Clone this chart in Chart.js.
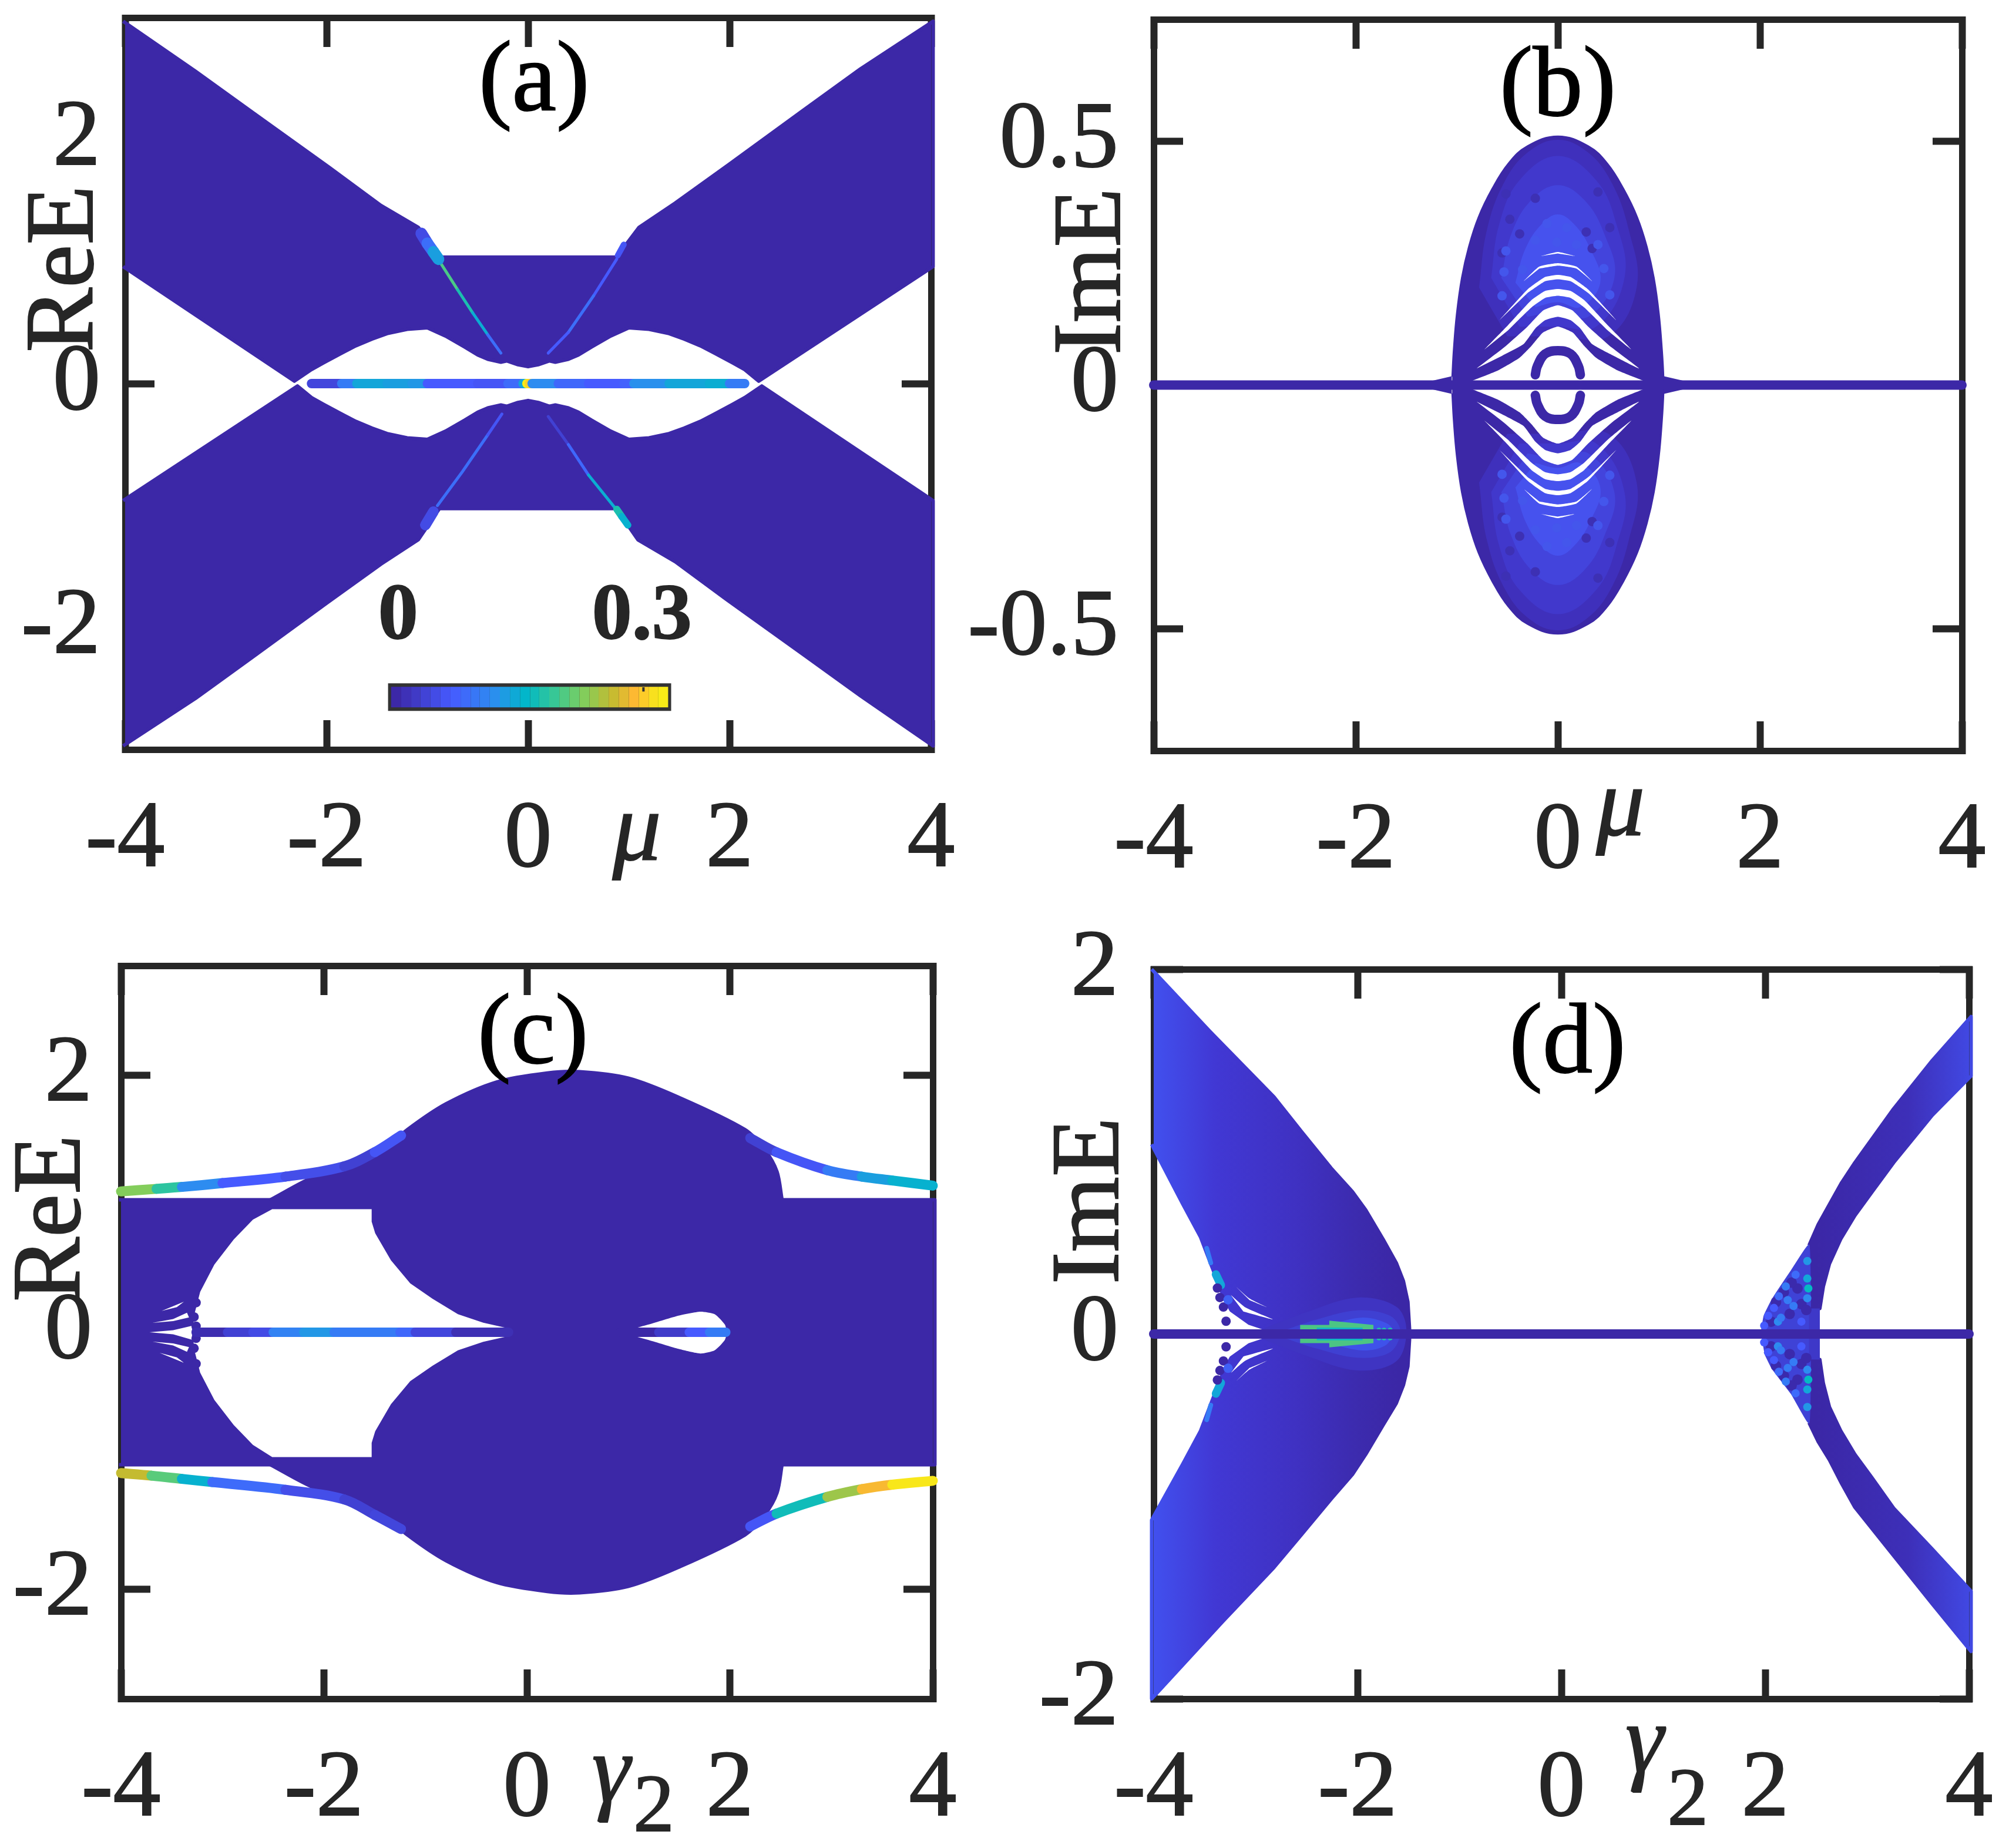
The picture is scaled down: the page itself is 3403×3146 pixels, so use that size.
<!DOCTYPE html>
<html>
<head>
<meta charset="utf-8">
<title>Band panels</title>
<script src="https://cdn.jsdelivr.net/npm/chart.js@4"></script>
<style>
  html, body { margin: 0; padding: 0; background: #fff; }
  #page { position: relative; width: 3403px; height: 3146px; overflow: hidden; }
  canvas { position: absolute; }
</style>
</head>
<body>
<div id="page">
  <canvas id="panelA" style="left:0;top:0" width="1700" height="1560"></canvas>
  <canvas id="panelB" style="left:1600px;top:0" width="1803" height="1560"></canvas>
  <canvas id="panelC" style="left:0;top:1560px" width="1700" height="1586"></canvas>
  <canvas id="panelD" style="left:1600px;top:1560px" width="1803" height="1586"></canvas>
</div>
<script>
// tick labels
const xTicks = [-4, -2, 0, 2, 4];
const aTicksY = [-2, 0, 2];
const bTicksY = [-0.5, 0, 0.5];
const cTicksY = [-2, 0, 2];
const dTicksY = [-2, 0, 2];

// colour bar values, [x, y, level]
const barRows = [[-1.36,-2.57,0],[-1.26,-2.57,.036],[-1.16,-2.57,.071],[-1.07,-2.57,.107],[-.97,-2.57,.143],[-.87,-2.57,.179],[-.77,-2.57,.214],[-.67,-2.57,.25],[-.57,-2.57,.286],[-.48,-2.57,.321],[-.38,-2.57,.357],[-.28,-2.57,.393],[-.18,-2.57,.429],[-.08,-2.57,.464],[.02,-2.57,.5],[.11,-2.57,.536],[.21,-2.57,.571],[.31,-2.57,.607],[.41,-2.57,.643],[.51,-2.57,.679],[.61,-2.57,.714],[.7,-2.57,.75],[.8,-2.57,.786],[.9,-2.57,.821],[1,-2.57,.857],[1.1,-2.57,.893],[1.2,-2.57,.929],[1.29,-2.57,.964],[1.39,-2.57,1]];
const barFrame = [[-1.39,-2.57],[1.42,-2.57]];
const barNotch = [[1.145,-2.49],[1.145,-2.525]];

// panel (a): band outlines, [mu, ReE]
const aUpper = [[-4.02,2.97],[-3.3,2.56],[-2.73,2.22],[-1.97,1.77],[-1.46,1.46],[-1.09,1.28],[-.866,1.037],[.878,1.037],[1.1,1.28],[1.46,1.48],[2,1.8],[2.73,2.24],[3.3,2.58],[4.02,2.97],[4.02,.96],[2.29,.02],[2.15,.115],[2.03,.17],[1.85,.25],[1.71,.31],[1.55,.365],[1.4,.41],[1.2,.445],[1,.457],[.82,.39],[.63,.3],[.5,.235],[.4,.2],[.27,.176],[.21,.186],[.1,.155],[0,.139],[-.1,.155],[-.21,.186],[-.27,.176],[-.4,.2],[-.5,.235],[-.63,.3],[-.82,.39],[-1,.457],[-1.2,.445],[-1.4,.41],[-1.55,.365],[-1.71,.31],[-1.85,.25],[-2.03,.17],[-2.15,.115],[-2.32,.02],[-4.02,.96]];
const aLower = [[-4.02,-2.97],[-3.3,-2.58],[-2.73,-2.24],[-2,-1.8],[-1.46,-1.48],[-1.09,-1.28],[-.88,-1.025],[.876,-1.025],[1.09,-1.28],[1.46,-1.46],[1.97,-1.77],[2.73,-2.22],[3.3,-2.56],[4.02,-2.97],[4.02,-.96],[2.32,-.02],[2.15,-.115],[2.03,-.17],[1.85,-.25],[1.71,-.31],[1.55,-.365],[1.4,-.41],[1.2,-.445],[1,-.457],[.82,-.39],[.63,-.3],[.5,-.235],[.4,-.2],[.27,-.176],[.21,-.186],[.1,-.155],[0,-.139],[-.1,-.155],[-.21,-.186],[-.27,-.176],[-.4,-.2],[-.5,-.235],[-.63,-.3],[-.82,-.39],[-1,-.457],[-1.2,-.445],[-1.4,-.41],[-1.55,-.365],[-1.71,-.31],[-1.85,-.25],[-2.03,-.17],[-2.15,-.115],[-2.29,-.02],[-4.02,-.96]];
// edge states in (a), [mu, ReE, weight]
const aEdgeThickUL = [[-1.06,1.23,.14],[-1,1.15,.26],[-.94,1.08,.4],[-.89,1.02,.58]];
const aEdgeThinUL = [[-.87,.99,.6],[-.7,.77,.52],[-.55,.58,.44],[-.4,.4,.26],[-.27,.25,.1]];
const aEdgeThickUR = [[.95,1.14,.18],[.89,1.05,.2]];
const aEdgeThinUR = [[.88,1.02,.2],[.65,.72,.26],[.4,.42,.2],[.2,.25,.08]];
const aEdgeThickLL = [[-1.02,-1.16,.14],[-.94,-1.05,.2]];
const aEdgeThinLL = [[-.9,-1,.26],[-.65,-.72,.26],[-.4,-.42,.18],[-.26,-.25,.08]];
const aEdgeThickLR = [[.88,-1.03,.52],[.93,-1.09,.45],[.99,-1.16,.36]];
const aEdgeThinLR = [[.2,-.27,.1],[.4,-.5,.24],[.6,-.75,.44],[.864,-1.02,.58]];
const aMidRows = [[-2.15,0,.12],[-1.85,0,.3],[-1.7,0,.42],[-1.4,0,.4],[-1.15,0,.38],[-1,0,.2],[-.5,0,.18],[-.2,0,.25],[-.05,0,.42],[-.012,0,.98],[.012,0,.9],[.04,0,.35],[.3,0,.24],[.6,0,.2],[.95,0,.22],[1.05,0,.36],[1.4,0,.42],[1.8,0,.44],[2,0,.3],[2.15,0,.12]];

// panel (b): spectrum outline and its lighter layers, [mu, ImE]
const bOutline = [[-1.045,.017],[-1.03,.073],[-1,.146],[-.95,.22],[-.88,.284],[-.785,.344],[-.65,.402],[-.49,.454],[-.3,.49],[0,.51],[.3,.49],[.49,.454],[.65,.402],[.785,.344],[.88,.284],[.95,.22],[1,.146],[1.03,.073],[1.045,.017],[1.045,-.017],[1.03,-.073],[1,-.146],[.95,-.22],[.88,-.284],[.785,-.344],[.65,-.402],[.49,-.454],[.3,-.49],[0,-.51],[-.3,-.49],[-.49,-.454],[-.65,-.402],[-.785,-.344],[-.88,-.284],[-.95,-.22],[-1,-.146],[-1.03,-.073],[-1.045,-.017]];
const bFlareLeft = [[-1.25,.0085],[-1.05,.018],[-1.05,-.018],[-1.25,-.0085]];
const bFlareRight = [[1.25,.0085],[1.05,.018],[1.05,-.018],[1.25,-.0085]];
const bGlowUp1 = [[-.78,.2],[-.7,.32],[-.52,.42],[-.28,.48],[0,.503],[.28,.48],[.52,.42],[.7,.32],[.78,.2],[.5,.1],[0,.1],[-.5,.1]];
const bGlowUp2 = [[-.66,.22],[-.58,.33],[-.38,.42],[0,.47],[.38,.42],[.58,.33],[.66,.22],[.38,.12],[0,.12],[-.38,.12]];
const bGlowUp3 = [[-.56,.22],[-.46,.31],[-.26,.38],[0,.41],[.26,.38],[.46,.31],[.56,.22],[.3,.14],[0,.15],[-.3,.14]];
const bGlowUp4 = [[-.42,.21],[-.32,.28],[-.16,.33],[0,.35],[.16,.33],[.32,.28],[.42,.21],[.22,.16],[0,.17],[-.22,.16]];
const bGlowLow1 = [[-.78,-.2],[-.7,-.32],[-.52,-.42],[-.28,-.48],[0,-.503],[.28,-.48],[.52,-.42],[.7,-.32],[.78,-.2],[.5,-.1],[0,-.1],[-.5,-.1]];
const bGlowLow2 = [[-.66,-.22],[-.58,-.33],[-.38,-.42],[0,-.47],[.38,-.42],[.58,-.33],[.66,-.22],[.38,-.12],[0,-.12],[-.38,-.12]];
const bGlowLow3 = [[-.56,-.22],[-.46,-.31],[-.26,-.38],[0,-.41],[.26,-.38],[.46,-.31],[.56,-.22],[.3,-.14],[0,-.15],[-.3,-.14]];
const bGlowLow4 = [[-.42,-.21],[-.32,-.28],[-.16,-.33],[0,-.35],[.16,-.33],[.32,-.28],[.42,-.21],[.22,-.16],[0,-.17],[-.22,-.16]];
const bBrightSpecks = [[-.533,.232],[-.349,.237],[.455,.239],[.514,.185],[-.552,.183],[-.223,.297],[-.01,.293],[.397,.288],[-.514,.275],[.184,.288],[-.107,.331],[.087,.323],[-.533,-.232],[-.349,-.237],[.455,-.239],[.514,-.185],[-.552,-.183],[-.223,-.297],[-.01,-.293],[.397,-.288],[-.514,-.275],[.184,-.288],[-.107,-.331],[.087,-.323]];
const bDarkSpecks = [[-.514,.392],[-.378,.31],[-.223,.383],[-.552,.271],[-.475,.34],[.397,.396],[.281,.314],[.514,.323],[.339,.28],[-.514,-.392],[-.378,-.31],[-.223,-.383],[-.552,-.271],[-.475,-.34],[.397,-.396],[.281,-.314],[.514,-.323],[.339,-.28]];
// white gaps between the curves
const bGapUp = [
  [[-.843,.009],[-.591,.03],[-.378,.056],[-.262,.08],[-.145,.108],[0,.12],[.145,.108],[.262,.08],[.378,.056],[.591,.03],[.843,.009]],
  [[-.804,.034],[-.533,.077],[-.3,.12],[-.145,.153],[0,.1635],[.145,.153],[.3,.12],[.533,.077],[.804,.034],[.552,.06],[.339,.084],[.223,.116],[.126,.133],[0,.14],[-.126,.133],[-.223,.116],[-.339,.084],[-.552,.06]],
  [[-.727,.073],[-.494,.1226],[-.262,.174],[-.126,.193],[0,.197],[.126,.193],[.262,.174],[.494,.1226],[.727,.073],[.494,.112],[.262,.159],[.126,.1786],[0,.183],[-.126,.1786],[-.262,.159],[-.494,.112]],
  [[-.578,.133],[-.3,.196],[-.126,.2216],[0,.226],[.126,.2216],[.3,.196],[.578,.133],[.3,.189],[.126,.213],[0,.217],[-.126,.213],[-.3,.189]],
  [[-.339,.213],[-.184,.243],[0,.25],[.184,.243],[.339,.213],[.184,.239],[0,.245],[-.184,.239]],
  [[-.169,.2646],[0,.273],[.169,.2646],[0,.27]]
];
const bGapLow = [
  [[-.843,-.009],[-.591,-.03],[-.378,-.056],[-.262,-.08],[-.145,-.108],[0,-.12],[.145,-.108],[.262,-.08],[.378,-.056],[.591,-.03],[.843,-.009]],
  [[-.804,-.034],[-.533,-.077],[-.3,-.12],[-.145,-.153],[0,-.1635],[.145,-.153],[.3,-.12],[.533,-.077],[.804,-.034],[.552,-.06],[.339,-.084],[.223,-.116],[.126,-.133],[0,-.14],[-.126,-.133],[-.223,-.116],[-.339,-.084],[-.552,-.06]],
  [[-.727,-.073],[-.494,-.1226],[-.262,-.174],[-.126,-.193],[0,-.197],[.126,-.193],[.262,-.174],[.494,-.1226],[.727,-.073],[.494,-.112],[.262,-.159],[.126,-.1786],[0,-.183],[-.126,-.1786],[-.262,-.159],[-.494,-.112]],
  [[-.578,-.133],[-.3,-.196],[-.126,-.2216],[0,-.226],[.126,-.2216],[.3,-.196],[.578,-.133],[.3,-.189],[.126,-.213],[0,-.217],[-.126,-.213],[-.3,-.189]],
  [[-.339,-.213],[-.184,-.243],[0,-.25],[.184,-.243],[.339,-.213],[.184,-.239],[0,-.245],[-.184,-.239]],
  [[-.169,-.2646],[0,-.273],[.169,-.2646],[0,-.27]]
];
const bLoopUp = [[-.223,.021],[-.203,.039],[-.126,.064],[0,.0706],[.126,.064],[.203,.039],[.223,.021]];
const bLoopLow = [[-.223,-.021],[-.203,-.039],[-.126,-.064],[0,-.0706],[.126,-.064],[.203,-.039],[.223,-.021]];
const bMidLine = [[-4,0],[4,0]];

// panel (c): [gamma2, ReE]
const cBand = [[-4.02,1.03],[4.02,1.03],[4.02,-1.03],[-4.02,-1.03]];
const cLobeUp = [[-2.54,1.03],[-2.09,1.217],[-1.5,1.37],[-1.18,1.58],[-.8,1.78],[-.3,1.95],[.2,2.02],[.52,2.03],[1,1.98],[1.5,1.83],[2.15,1.58],[2.35,1.42],[2.47,1.25],[2.52,1.03]];
const cLobeLow = [[-2.54,-1.03],[-2.09,-1.217],[-1.5,-1.37],[-1.18,-1.58],[-.8,-1.78],[-.3,-1.95],[.2,-2.02],[.52,-2.03],[1,-1.98],[1.5,-1.83],[2.15,-1.58],[2.35,-1.42],[2.47,-1.25],[2.52,-1.03]];
const cHoleLeft = [[-3.29,.02],[-3.28,.13],[-3.22,.314],[-3.08,.526],[-2.89,.72],[-2.7,.876],[-2.51,.957],[-1.53,.957],[-1.53,.86],[-1.495,.77],[-1.34,.56],[-1.15,.38],[-.93,.26],[-.68,.14],[-.43,.074],[-.18,.03],[-.18,-.03],[-.43,-.074],[-.68,-.14],[-.93,-.26],[-1.15,-.38],[-1.34,-.56],[-1.495,-.77],[-1.53,-.86],[-1.53,-.97],[-2.51,-.97],[-2.7,-.876],[-2.89,-.72],[-3.08,-.526],[-3.22,-.314],[-3.28,-.13],[-3.29,-.02]];
const cHoleRight = [[.92,0],[1.2,.06],[1.5,.13],[1.71,.16],[1.85,.14],[1.95,.06],[1.97,0],[1.95,-.06],[1.85,-.14],[1.71,-.165],[1.5,-.13],[1.2,-.06]];
const cFingers = [
  [[-3.69,.073],[-3.486,.103],[-3.35,.152],[-3.33,.115],[-3.486,.087]],
  [[-3.72,0],[-3.486,.016],[-3.3,.05],[-3.3,-.058],[-3.486,-.016]],
  [[-3.69,-.073],[-3.486,-.103],[-3.35,-.152],[-3.33,-.115],[-3.486,-.087]],
  [[-3.6,.165],[-3.38,.238],[-3.45,.195]],
  [[-3.62,-.16],[-3.38,-.238],[-3.45,-.195]]
];
const cDots = [[-3.26,.23],[-3.28,.119],[-3.26,.047],[-3.26,-.047],[-3.28,-.125],[-3.26,-.245]];
const cMidLeft = [[-3.26,0,.02],[-2.95,0,.1],[-2.7,0,.14],[-2.5,0,.32],[-2.2,0,.38],[-1.9,0,.3],[-1.6,0,.3],[-1.25,0,.24],[-1.1,0,.12],[-.7,0,.03],[-.18,0,0]];
const cMidRight = [[.92,0,0],[1.3,0,.08],[1.6,0,.2],[1.8,0,.3],[1.96,0,.22]];
const cEdgeUL = [[-4,1.095,.68],[-3.65,1.115,.55],[-3.4,1.13,.35],[-3,1.16,.2],[-2.38,1.21,.15],[-1.8,1.29,.1],[-1.5,1.4,.18],[-1.24,1.53,.4]];
const cEdgeUR = [[2.2,1.51,.1],[2.46,1.4,.18],[2.96,1.26,.3],[3.3,1.21,.4],[3.6,1.18,.45],[4,1.14,.62]];
const cEdgeLL = [[-4,-1.095,.78],[-3.7,-1.115,.62],[-3.4,-1.14,.45],[-3.1,-1.165,.25],[-2.38,-1.225,.15],[-1.8,-1.3,.1],[-1.5,-1.42,.12],[-1.24,-1.53,.4]];
const cEdgeLR = [[2.2,-1.51,.18],[2.46,-1.41,.5],[2.96,-1.28,.72],[3.3,-1.22,.85],[3.6,-1.185,.95],[4,-1.155,1]];

// panel (d): [gamma2, ImE]
const dLeftLobe = [[-4.02,2],[-3.45,1.66],[-2.82,1.3],[-2.55,1.11],[-2.26,.91],[-2.05,.78],[-1.92,.68],[-1.75,.52],[-1.62,.39],[-1.55,.29],[-1.506,.177],[-1.49,.03],[-1.49,-.03],[-1.506,-.177],[-1.55,-.28],[-1.62,-.38],[-1.75,-.5],[-1.92,-.66],[-2.05,-.77],[-2.26,-.905],[-2.55,-1.1],[-2.82,-1.28],[-3.32,-1.575],[-4.02,-2],[-4.02,-1.02],[-3.716,-.714],[-3.54,-.531],[-3.43,-.37],[-3.31,-.2],[-3.24,-.13],[-3.06,-.059],[-2.81,-.012],[-2.81,.012],[-3.06,.059],[-3.24,.13],[-3.31,.2],[-3.43,.37],[-3.54,.531],[-3.716,.714],[-4.02,1.04]];
const dGlowOuter = [[-3,.012],[-2.5,.12],[-2,.2],[-1.62,.15],[-1.52,.02],[-1.62,-.15],[-2,-.2],[-2.5,-.12],[-3,-.012]];
const dGlowMid = [[-2.75,.015],[-2.4,.08],[-2,.13],[-1.68,.1],[-1.58,.015],[-1.68,-.1],[-2,-.13],[-2.4,-.08],[-2.75,-.015]];
const dGlowCore = [[-2.5,.02],[-2.25,.055],[-1.95,.09],[-1.72,.06],[-1.65,.015],[-1.72,-.06],[-1.95,-.09],[-2.25,-.055],[-2.5,-.02]];
const dStreakUp = [[-2.563,.05],[-2.277,.05],[-2.277,.073],[-1.844,.05],[-1.844,.02],[-2.563,.02]];
const dStreakLow = [[-2.563,-.05],[-2.277,-.05],[-2.277,-.073],[-1.844,-.05],[-1.844,-.02],[-2.563,-.02]];
const dStreakCoreUp = [[-2.4,.035],[-1.95,.035],[-1.95,.02],[-2.4,.02]];
const dStreakCoreLow = [[-2.4,-.035],[-1.95,-.035],[-1.95,-.02],[-2.4,-.02]];
const dStreakTips = [[-1.79,.022],[-1.74,.022],[-1.68,.022],[-1.79,-.022],[-1.74,-.022],[-1.68,-.022]];
const dFingerUp = [[[-3.245,.215],[-3.1,.146],[-2.83,.08],[-3.12,.123]],[[-3.19,.258],[-3.06,.195],[-2.89,.147],[-3.06,.186]]];
const dFingerLow = [[[-3.245,-.215],[-3.1,-.146],[-2.83,-.08],[-3.12,-.123]],[[-3.19,-.258],[-3.06,-.195],[-2.89,-.147],[-3.06,-.186]]];
const dTealUp = [[-3.39,.327,.42],[-3.34,.268,.42]];
const dTealUp2 = [[-3.48,.47,.3],[-3.44,.39,.36]];
const dTealLow = [[-3.39,-.327,.42],[-3.34,-.268,.42]];
const dTealLow2 = [[-3.48,-.47,.3],[-3.44,-.39,.36]];
const dDots = [[-3.29,.07],[-3.316,.148],[-3.35,.2],[-3.375,.252],[-3.29,-.07],[-3.316,-.148],[-3.35,-.2],[-3.375,-.252]];
const dBrightDots = [[-3.27,.188],[-3.27,-.188]];
const dUpperArm = [[2.43,.486],[2.52,.6],[2.63,.71],[2.75,.83],[2.88,.94],[3.26,1.235],[3.64,1.5],[4.02,1.74],[4.02,1.415],[3.64,1.2],[3.26,.94],[3.05,.78],[2.88,.65],[2.74,.52],[2.63,.385],[2.57,.26],[2.536,.14],[2.43,.13]];
const dLowerArm = [[2.43,-.486],[2.52,-.59],[2.63,-.69],[2.75,-.82],[2.88,-.95],[3.26,-1.215],[3.64,-1.48],[4.02,-1.74],[4.02,-1.41],[3.64,-1.18],[3.26,-.955],[3.05,-.79],[2.88,-.66],[2.74,-.53],[2.63,-.4],[2.57,-.27],[2.536,-.14],[2.43,-.13]];
const dLens = [[1.96,0],[1.99,.1],[2.07,.19],[2.26,.35],[2.43,.486],[2.43,-.486],[2.26,-.33],[2.07,-.19],[1.99,-.1]];
const dStrip = [[2.43,.14],[2.536,.14],[2.536,-.14],[2.43,-.14]];
const dLensBright = [[2.413,.304,.42],[2.423,.25,.48],[2.413,.196,.35],[2.125,.068,.35],[2.154,.089,.3],[2.278,.154,.3],[2.298,.325,.25],[2.202,.261,.3],[2.221,.186,.3],[2.134,.207,.25],[2.029,.1,.2],[1.99,.046,.2],[2.355,.068,.2],[2.413,.4,.38],[2.086,.143,.2],[2.413,-.304,.42],[2.423,-.25,.48],[2.413,-.196,.35],[2.125,-.068,.35],[2.154,-.089,.3],[2.278,-.154,.3],[2.298,-.325,.25],[2.202,-.261,.3],[2.221,-.186,.3],[2.134,-.207,.25],[2.029,-.1,.2],[1.99,-.046,.2],[2.355,-.068,.2],[2.413,-.4,.38],[2.086,-.143,.2]];
const dLensDark = [[2.355,.164],[2.24,.11],[2.183,.229],[2.317,.25],[2.259,.282],[2.106,.175],[2.058,.068],[2.403,.132],[2.355,-.164],[2.24,-.11],[2.183,-.229],[2.317,-.25],[2.259,-.282],[2.106,-.175],[2.058,-.068],[2.403,-.132]];
const dMidLine = [[-4,0],[4,0]];

// axis titles and panel tags, [text, x, y, font, rotated]
const aNotes = [['(a)',.06,2.46,'tag'],['ReE',-4.58,.94,'title',true],['μ',1.08,-3.69,'sym'],['0',-1.29,-1.92,'bold'],['0.3',1.13,-1.92,'bold']];
const bNotes = [['(b)',0,.608,'tag'],['ImE',-4.59,.233,'title',true],['μ',.62,-.87,'sym']];
const cNotes = [['(c)',.06,2.3,'tag'],['ReE',-4.66,.886,'title',true],['γ',.83,-3.45,'sym'],['2',1.25,-3.71,'sub']];
const dNotes = [['(d)',.06,1.58,'tag'],['ImE',-4.6,.73,'title',true],['γ',.815,-2.26,'sym'],['2',1.24,-2.57,'sub']];

const INK = '#262626';
const BAND = '#3c28a7';
const fonts = {
  tag: '170px "Liberation Serif"',
  title: '165px "Liberation Serif"',
  sym: 'italic 165px "Liberation Serif"',
  sub: '140px "Liberation Serif"',
  bold: 'bold 136px "Liberation Serif"'
};
const rampStops = [[0,[60,40,167]],[.2,[70,90,255]],[.35,[45,140,240]],[.47,[0,184,200]],[.58,[60,200,145]],[.67,[125,207,95]],[.78,[196,187,48]],[.86,[255,185,50]],[.93,[248,225,30]],[1,[248,245,16]]];
const leftSweep = [[-4,'#4150ee'],[-3.4,'#4138d4'],[-2.6,'#3f31c2'],[-2,'#3c2bae'],[-1.6,'#3b27a6']];
const armSweep = [[2.5,'#3b27a6'],[3.4,'#3d2fb8'],[4,'#4148e2']];

function ramp(t) {
  let i = 0;
  while (i < rampStops.length - 2 && t > rampStops[i + 1][0]) i++;
  const [t0, c0] = rampStops[i];
  const [t1, c1] = rampStops[i + 1];
  const f = Math.min(1, Math.max(0, (t - t0) / (t1 - t0)));
  return `rgb(${c0.map((c, k) => Math.round(c + (c1[k] - c) * f)).join(',')})`;
}

const toPoints = rows => rows.map(r => ({ x: r[0], y: r[1] }));

function shape(rows, color, edge = 6, tension = 0) {
  return { data: toPoints(rows), showLine: true, fill: 'shape', backgroundColor: color, borderColor: color,
    borderWidth: edge, pointRadius: 0, tension, capBezierPoints: false, clip: false, borderJoinStyle: 'round' };
}
function curve(rows, color, width, tension = 0, cap = 'round') {
  return { data: toPoints(rows), showLine: true, fill: false, borderColor: color, borderWidth: width,
    pointRadius: 0, tension, capBezierPoints: false, clip: false, borderCapStyle: cap };
}
function tinted(rows, width, cap = 'round', tension = 0) {
  const d = curve(rows, ramp(rows[0][2]), width, tension, cap);
  d.segment = { borderColor: c => ramp(rows[c.p0DataIndex][2]) };
  return d;
}
function dots(rows, radius, colors) {
  return { data: toPoints(rows), showLine: false, pointRadius: radius, pointBorderWidth: 0, pointBackgroundColor: colors, clip: false };
}
// horizontal fill that goes from light to dark along the x axis
function sweep(stops) {
  return c => {
    const { chart } = c;
    if (!chart.chartArea) return stops[0][1];
    const sx = chart.scales.x;
    const g = chart.ctx.createLinearGradient(sx.getPixelForValue(-4), 0, sx.getPixelForValue(4), 0);
    stops.forEach(([v, col]) => g.addColorStop((v + 4) / 8, col));
    return g;
  };
}
function swept(rows, stops) {
  return Object.assign(shape(rows, stops[0][1], 6), { backgroundColor: sweep(stops), borderColor: sweep(stops) });
}

const panelText = {
  id: 'panelText',
  afterDatasetsDraw(chart, args, opts) {
    const { ctx, scales } = chart;
    opts.items.forEach(([text, x, y, font, rotated]) => {
      ctx.save();
      ctx.translate(scales.x.getPixelForValue(x), scales.y.getPixelForValue(y));
      if (rotated) ctx.rotate(-Math.PI / 2);
      ctx.font = fonts[font];
      ctx.fillStyle = font === 'tag' ? '#000' : INK;
      ctx.strokeStyle = ctx.fillStyle;
      ctx.lineWidth = 2;
      ctx.textAlign = 'center';
      ctx.textBaseline = 'middle';
      ctx.fillText(text, 0, 0);
      ctx.strokeText(text, 0, 0);
      ctx.restore();
    });
  }
};
Chart.register(panelText);

function axisBase(size, min, max) {
  return {
    type: 'linear', min, max,
    border: { display: true, color: INK, width: 11 },
    grid: { drawOnChartArea: false, drawTicks: true, tickLength: -50, tickWidth: 12, tickColor: INK },
    afterFit: s => {
      if (s.isHorizontal()) s.height = size; else s.width = size;
      s.paddingLeft = s.paddingRight = s.paddingTop = s.paddingBottom = 0;
    }
  };
}
function tickList(values) {
  return s => { s.ticks = values.map(value => ({ value })); };
}
function labelled(base, values, padding) {
  return Object.assign(base, {
    afterBuildTicks: tickList(values),
    ticks: { display: true, autoSkip: false, maxRotation: 0, padding, color: INK, textStrokeColor: INK, textStrokeWidth: 2,
      font: { family: '"Liberation Serif"', size: 162 }, callback: v => String(v) }
  });
}
function plain(base, values) {
  return Object.assign(base, { afterBuildTicks: tickList(values), ticks: { display: false } });
}

function drawPanel(id, marks, notes, box, yMax, yTicks, yPad) {
  const n = marks.length;
  new Chart(document.getElementById(id), {
    type: 'scatter',
    // marks are listed bottom to top
    data: { datasets: marks.map((d, i) => Object.assign(d, { order: n - i })) },
    options: {
      responsive: false, animation: false, devicePixelRatio: 1,
      layout: { padding: 0 },
      plugins: { legend: { display: false }, tooltip: { enabled: false }, panelText: { items: notes } },
      scales: {
        x: labelled(axisBase(box.bottom, -4, 4), xTicks, 108),
        x2: plain(Object.assign(axisBase(box.top, -4, 4), { position: 'top' }), xTicks),
        y: labelled(axisBase(box.left, -yMax, yMax), yTicks, yPad),
        y2: plain(Object.assign(axisBase(box.right, -yMax, yMax), { position: 'right' }), yTicks)
      }
    }
  });
}

drawPanel('panelA', [
  shape(aUpper, BAND), shape(aLower, BAND),
  tinted(aEdgeThinUL, 5), tinted(aEdgeThinUR, 5), tinted(aEdgeThinLL, 5), tinted(aEdgeThinLR, 5),
  tinted(aEdgeThickUL, 20), tinted(aEdgeThickUR, 10), tinted(aEdgeThickLL, 18), tinted(aEdgeThickLR, 12),
  tinted(aMidRows, 16),
  curve(barFrame, '#333', 47, 0, 'butt'), tinted(barRows, 35, 'butt'), curve(barNotch, '#333', 4, 0, 'butt')
], aNotes, { left: 213, right: 115, top: 30, bottom: 284 }, 3, aTicksY, 92);

drawPanel('panelB', [
  shape(bOutline, BAND, 3, .4), shape(bFlareLeft, BAND, 0), shape(bFlareRight, BAND, 0),
  shape(bGlowUp1, '#3f30bc', 0, .4), shape(bGlowUp2, '#4138cc', 0, .4), shape(bGlowUp3, '#4344dc', 0, .4), shape(bGlowUp4, '#4652ee', 0, .4),
  shape(bGlowLow1, '#3f30bc', 0, .4), shape(bGlowLow2, '#4138cc', 0, .4), shape(bGlowLow3, '#4344dc', 0, .4), shape(bGlowLow4, '#4652ee', 0, .4),
  dots(bDarkSpecks, 8, '#3d30b4'), dots(bBrightSpecks, 8, '#4456ec'),
  ...bGapUp.map(g => shape(g, '#fff', 0, .15)), ...bGapLow.map(g => shape(g, '#fff', 0, .15)),
  curve(bLoopUp, BAND, 16, .4), curve(bLoopLow, BAND, 16, .4),
  curve(bMidLine, BAND, 16)
], bNotes, { left: 364, right: 63, top: 33, bottom: 282 }, .75, bTicksY, 110);

drawPanel('panelC', [
  shape(cBand, BAND), shape(cLobeUp, BAND, 4, .3), shape(cLobeLow, BAND, 4, .3),
  shape(cHoleLeft, '#fff', 0), shape(cHoleRight, '#fff', 0, .2),
  ...cFingers.map(f => shape(f, '#fff', 0)),
  dots(cDots, 8, BAND),
  tinted(cMidLeft, 16), tinted(cMidRight, 16),
  tinted(cEdgeUL, 17, 'round', .35), tinted(cEdgeUR, 17, 'round', .35), tinted(cEdgeLL, 17, 'round', .35), tinted(cEdgeLR, 17, 'round', .35)
], cNotes, { left: 206, right: 112, top: 84, bottom: 254 }, 2.85, cTicksY, 99);

drawPanel('panelD', [
  swept(dLeftLobe, leftSweep),
  shape(dGlowOuter, '#3f34c2', 0, .35), shape(dGlowMid, '#3f40d2', 0, .35), shape(dGlowCore, '#3f52ea', 0, .35),
  ...dFingerUp.map(f => shape(f, '#fff', 0, .2)), ...dFingerLow.map(f => shape(f, '#fff', 0, .2)),
  shape(dStreakUp, '#4cc584', 0), shape(dStreakLow, '#4cc584', 0),
  shape(dStreakCoreUp, '#10b6c4', 0), shape(dStreakCoreLow, '#10b6c4', 0),
  dots(dStreakTips, 4, '#20c0a8'),
  tinted(dTealUp, 14), tinted(dTealUp2, 8), tinted(dTealLow, 14), tinted(dTealLow2, 8),
  dots(dDots, 8, BAND), dots(dBrightDots, 8, '#3f60f6'),
  swept(dUpperArm, armSweep), swept(dLowerArm, armSweep),
  shape(dLens, '#3f42d6', 2, .12), shape(dStrip, '#3e38c8', 0),
  dots(dLensDark, 9, '#3b2aac'),
  dots(dLensBright, 7, dLensBright.map(r => ramp(r[2]))),
  curve(dMidLine, BAND, 16)
], dNotes, { left: 364, right: 51, top: 90, bottom: 254 }, 2, dTicksY, 110);
</script>
</body>
</html>
